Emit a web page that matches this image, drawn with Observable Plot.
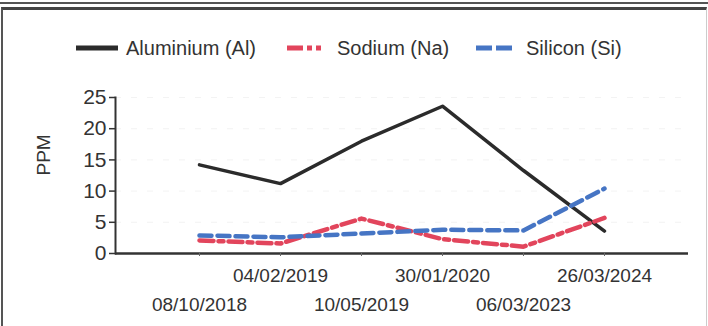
<!DOCTYPE html>
<html>
<head>
<meta charset="utf-8">
<script src="https://cdn.jsdelivr.net/npm/d3@7"></script>
<script src="https://cdn.jsdelivr.net/npm/@observablehq/plot@0.6"></script>
<style>
  html, body { margin: 0; padding: 0; background: #fff; }
  #wrap { position: relative; width: 708px; height: 326px; overflow: hidden; font-family: "Liberation Sans", Arial, sans-serif; color: #333; }
  .bar1 { position: absolute; left: 0; top: 2px; width: 708px; height: 2px; background: #555; }
  .box { position: absolute; left: 1px; top: 7px; width: 703px; height: 330px; border-top: 3px solid #444; border-left: 2px solid #555; border-right: 1px solid #ccc; }
  .leg { position: absolute; top: 36px; height: 24px; display: flex; align-items: center; font-size: 20px; color: #333; white-space: nowrap; }
  .leg svg { margin-right: 8px; }
  #chart { position: absolute; left: 0; top: 70px; }
</style>
</head>
<body>
<div id="wrap">
  <div class="bar1"></div>
  <div class="box"></div>
  <div id="legend"></div>
  <div id="chart"></div>
</div>
<script>
const dates = ["08/10/2018", "04/02/2019", "10/05/2019", "30/01/2020", "06/03/2023", "26/03/2024"];
const aluminium = [14.2, 11.2, 18.0, 23.6, 13.3, 3.6];
const sodium = [2.1, 1.6, 5.6, 2.3, 1.1, 5.7];
const silicon = [2.9, 2.6, 3.2, 3.8, 3.7, 10.4];
const seriesNames = ["Aluminium (Al)", "Sodium (Na)", "Silicon (Si)"];
const seriesColors = ["#2b2b2b", "#e2455c", "#4675c4"];
const seriesDash = [null, "14,5,5,5", "12,6"];
const yTicks = [0, 5, 10, 15, 20, 25];

const seriesValues = [aluminium, sodium, silicon];
const rows = seriesNames.flatMap((name, s) => dates.map((d, i) => ({date: d, series: name, value: seriesValues[s][i]})));

// Legend
const legendLeft = [76, 287, 476];
const legend = document.getElementById("legend");
seriesNames.forEach((name, s) => {
  const item = document.createElement("div");
  item.className = "leg";
  item.style.left = legendLeft[s] + "px";
  const w = s === 2 ? 36 : 42;
  item.innerHTML = `<svg width="${w}" height="10"><line x1="0" x2="${w}" y1="5" y2="5" stroke="${seriesColors[s]}" stroke-width="5" ${seriesDash[s] ? `stroke-dasharray="${s === 1 ? "16,4,5,4,5" : "16,4"}"` : ""}/></svg><span style="margin-left:${s===2?6:0}px">${name}</span>`;
  legend.appendChild(item);
});

const upper = dates.filter((d, i) => i % 2 === 1);
const lower = dates.filter((d, i) => i % 2 === 0);

const chart = Plot.plot({
  width: 708,
  height: 256,
  marginLeft: 115,
  marginRight: 20,
  marginTop: 27,
  marginBottom: 73,
  style: {fontFamily: "Liberation Sans, Arial, sans-serif", color: "#333", background: "transparent"},
  x: {type: "point", domain: dates, padding: 1, axis: null},
  y: {domain: [0, 25], axis: null},
  marks: [
    Plot.gridY(yTicks.filter(t => t > 0), {stroke: "#ddd", strokeOpacity: 0.35, strokeDasharray: "6,10"}),
    Plot.axisY(yTicks, {tickSize: 6, tickPadding: 3, fontSize: 21, label: null, stroke: "#333", strokeWidth: 1.5, color: "#333"}),
    Plot.frame({anchor: "left", stroke: "#333", strokeWidth: 2}),
    Plot.ruleY([0], {stroke: "#333", strokeWidth: 2.5}),
    Plot.axisX(dates, {tickSize: 3, tickFormat: () => "", stroke: "#666", strokeWidth: 1, label: null}),
    Plot.axisX(upper, {tickSize: 0, tickPadding: 15, fontSize: 19, color: "#333", label: null}),
    Plot.axisX(lower, {tickSize: 0, tickPadding: 44, fontSize: 19, color: "#333", label: null}),
    Plot.text(["PPM"], {frameAnchor: "left", y: () => 12.5, dx: -72, rotate: -90, fontSize: 19, fill: "#333"}),
    ...seriesNames.map((name, s) => Plot.line(rows.filter(r => r.series === name), {
      x: "date", y: "value", stroke: seriesColors[s], strokeWidth: s === 0 ? 3.5 : 4.5,
      strokeDasharray: seriesDash[s], strokeLinejoin: "round"
    }))
  ]
});
document.getElementById("chart").appendChild(chart);
</script>
</body>
</html>
